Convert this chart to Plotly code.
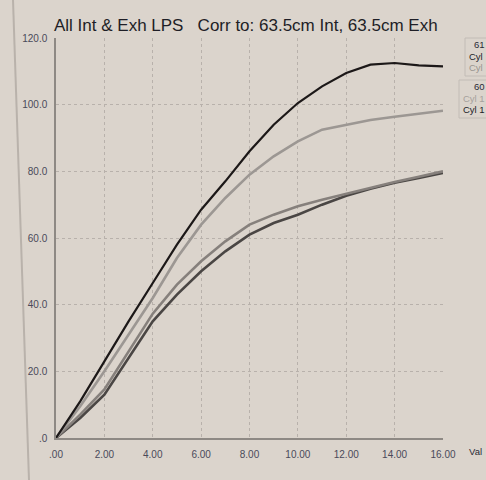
import plotly.graph_objects as go

x_vals = list(range(0, 17))
black_series = [0, 11, 23, 35, 46.5, 58, 68.5, 77, 86, 94, 100.5, 105.5, 109.5, 112, 112.5, 111.8, 111.5]
light_series = [0, 9.5, 20, 31, 42, 54, 64, 72, 79, 84.5, 89, 92.5, 94, 95.4, 96.4, 97.4, 98.2]
mid_series = [0, 7, 14.6, 26, 37.3, 46, 53, 59, 64, 67, 69.5, 71.5, 73.3, 75, 76.8, 78.4, 80]
dark_series = [0, 6, 13, 24, 35, 43, 50, 56, 61, 64.5, 67, 70, 72.7, 74.8, 76.6, 78, 79.5]

x_tickvals = [0, 2, 4, 6, 8, 10, 12, 14, 16]
x_ticktext = [".00", "2.00", "4.00", "6.00", "8.00", "10.00", "12.00", "14.00", "16.00"]
y_tickvals = [0, 20, 40, 60, 80, 100, 120]
y_ticktext = [".0", "20.0", "40.0", "60.0", "80.0", "100.0", "120.0"]

title_text = "All Int &amp; Exh LPS   Corr to: 63.5cm Int, 63.5cm Exh"

BG = "#dbd4cc"
W, H = 486, 480
L, R, T, B = 56, 43, 38, 42
PW, PH = W - L - R, H - T - B

def px(xp):
    return (xp - L) / PW

def py(yp):
    return 1 - (yp - T) / PH

fig = go.Figure()
fig.add_trace(go.Scatter(x=x_vals, y=dark_series, mode="lines",
                         line=dict(color="#4a4644", width=2.6), name="Cyl 1"))
fig.add_trace(go.Scatter(x=x_vals, y=mid_series, mode="lines",
                         line=dict(color="#86807c", width=2.6), name="Cyl 1"))
fig.add_trace(go.Scatter(x=x_vals, y=light_series, mode="lines",
                         line=dict(color="#9c9793", width=2.6), name="Cyl"))
fig.add_trace(go.Scatter(x=x_vals, y=black_series, mode="lines",
                         line=dict(color="#1c1818", width=2.2), name="Cyl"))

axis_font = dict(family="Liberation Sans, Arial, sans-serif", size=10, color="#4a4a5a")

fig.update_layout(
    width=W, height=H,
    margin=dict(l=L, r=R, t=T, b=B),
    paper_bgcolor=BG, plot_bgcolor=BG,
    showlegend=False,
    xaxis=dict(range=[0, 16], tickvals=x_tickvals, ticktext=x_ticktext,
               showgrid=True, gridcolor="#b8b1ab", griddash="3px,3px", gridwidth=1,
               showline=True, linecolor="#8e8984", linewidth=1.5,
               zeroline=False, tickfont=axis_font, ticks="", ticklabelstandoff=6),
    yaxis=dict(range=[0, 120], tickvals=y_tickvals, ticktext=y_ticktext,
               showgrid=True, gridcolor="#b8b1ab", griddash="3px,3px", gridwidth=1,
               showline=True, linecolor="#8e8984", linewidth=1.5,
               zeroline=False, tickfont=axis_font, ticks="", ticklabelstandoff=5),
    font=dict(family="Liberation Sans, Arial, sans-serif"),
)

small = dict(size=9.5, color="#2a2a34")
annotations = [
    dict(text=title_text, xref="paper", yref="paper", x=px(52), y=py(26),
         xanchor="left", yanchor="middle", showarrow=False,
         font=dict(size=17, color="#1e1e26", family="Liberation Sans, Arial, sans-serif")),
    dict(text="Val", xref="paper", yref="paper", x=px(467), y=py(452),
         xanchor="left", yanchor="middle", showarrow=False, font=dict(size=9.5, color="#2a2a34")),
    dict(text="61", xref="paper", yref="paper", x=px(472), y=py(44),
         xanchor="left", yanchor="middle", showarrow=False, font=small),
    dict(text="Cyl", xref="paper", yref="paper", x=px(467), y=py(56),
         xanchor="left", yanchor="middle", showarrow=False, font=dict(size=9.5, color="#222228")),
    dict(text="Cyl", xref="paper", yref="paper", x=px(467), y=py(68),
         xanchor="left", yanchor="middle", showarrow=False, font=dict(size=9.5, color="#9a9590")),
    dict(text="60", xref="paper", yref="paper", x=px(472), y=py(86),
         xanchor="left", yanchor="middle", showarrow=False, font=small),
    dict(text="Cyl 1", xref="paper", yref="paper", x=px(461), y=py(98),
         xanchor="left", yanchor="middle", showarrow=False, font=dict(size=9.5, color="#a6a19c")),
    dict(text="Cyl 1", xref="paper", yref="paper", x=px(461), y=py(110),
         xanchor="left", yanchor="middle", showarrow=False, font=dict(size=9.5, color="#222228")),
]
fig.update_layout(annotations=annotations)

shapes = [
    dict(type="rect", xref="paper", yref="paper", x0=px(465), x1=px(490),
         y0=py(76), y1=py(38), line=dict(color="#c2bcb6", width=1)),
    dict(type="rect", xref="paper", yref="paper", x0=px(459), x1=px(490),
         y0=py(118), y1=py(80), line=dict(color="#c2bcb6", width=1)),
    dict(type="line", xref="paper", yref="paper", x0=px(13), x1=px(29),
         y0=py(0), y1=py(480), line=dict(color="#b9b2ab", width=2)),
]
fig.update_layout(shapes=shapes)

fig.write_html("out.html",
               config={"displayModeBar": False},
               post_script="document.body.style.margin='0';document.body.style.background='#dbd4cc';")
